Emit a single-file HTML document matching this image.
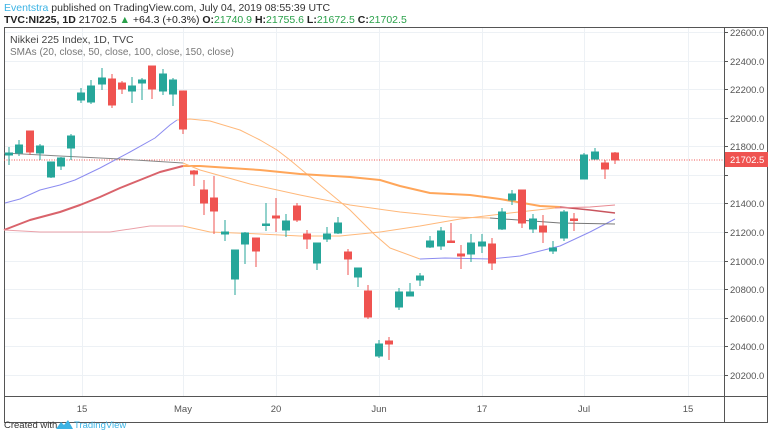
<!DOCTYPE html>
<html><head><meta charset="utf-8"><style>
body{margin:0;width:768px;height:434px;background:#fff;overflow:hidden;font-family:"Liberation Sans",sans-serif}
svg{position:absolute;left:0;top:0}
</style></head><body>
<svg width="768" height="434" viewBox="0 0 768 434" font-family="Liberation Sans, sans-serif">
<text x="4" y="11" font-size="10.5" fill="#333"><tspan fill="#3bb3e4">Eventstra</tspan> published on TradingView.com, July 04, 2019 08:55:39 UTC</text>
<text x="4" y="23" font-size="10.5" fill="#222"><tspan font-weight="bold">TVC:NI225, 1D</tspan> 21702.5 <tspan fill="#2aa14a">▲</tspan> +64.3 (+0.3%) <tspan font-weight="bold">O:</tspan><tspan fill="#2aa14a">21740.9</tspan> <tspan font-weight="bold">H:</tspan><tspan fill="#2aa14a">21755.6</tspan> <tspan font-weight="bold">L:</tspan><tspan fill="#2aa14a">21672.5</tspan> <tspan font-weight="bold">C:</tspan><tspan fill="#2aa14a">21702.5</tspan></text>
<g stroke="#edf1f5" stroke-width="1">
<line x1="4" x2="724" y1="32.5" y2="32.5"/><line x1="4" x2="724" y1="61.5" y2="61.5"/><line x1="4" x2="724" y1="89.5" y2="89.5"/><line x1="4" x2="724" y1="118.5" y2="118.5"/><line x1="4" x2="724" y1="146.5" y2="146.5"/><line x1="4" x2="724" y1="175.5" y2="175.5"/><line x1="4" x2="724" y1="203.5" y2="203.5"/><line x1="4" x2="724" y1="232.5" y2="232.5"/><line x1="4" x2="724" y1="261.5" y2="261.5"/><line x1="4" x2="724" y1="289.5" y2="289.5"/><line x1="4" x2="724" y1="318.5" y2="318.5"/><line x1="4" x2="724" y1="346.5" y2="346.5"/><line x1="4" x2="724" y1="375.5" y2="375.5"/>
<line x1="82.5" x2="82.5" y1="27" y2="396"/><line x1="183.5" x2="183.5" y1="27" y2="396"/><line x1="276.5" x2="276.5" y1="27" y2="396"/><line x1="379.5" x2="379.5" y1="27" y2="396"/><line x1="482.5" x2="482.5" y1="27" y2="396"/><line x1="584.5" x2="584.5" y1="27" y2="396"/><line x1="688.5" x2="688.5" y1="27" y2="396"/>
</g>
<rect x="4.5" y="27.5" width="763" height="395" fill="none" stroke="#555" stroke-width="1"/>
<line x1="724.5" x2="724.5" y1="27" y2="422" stroke="#555"/>
<line x1="4" x2="768" y1="396.5" y2="396.5" stroke="#555"/>
<text x="10" y="43" font-size="10.5" fill="#444">Nikkei 225 Index, 1D, TVC</text>
<text x="10" y="55" font-size="10" fill="#777">SMAs (20, close, 50, close, 100, close, 150, close)</text>
<line x1="4" x2="724" y1="160" y2="160" stroke="#ef5350" stroke-dasharray="1,1.5" stroke-width="1"/>
<!-- MAs -->
<g fill="none" stroke-linejoin="round">
<polyline stroke="#8c8cf0" stroke-width="1" points="5,203 20,199 40,190 60,185 75,180 100,168 130,152 155,138 170,125 177,120"/>
<polyline stroke="#ffb87a" stroke-width="1" points="177,120 190,119 210,121 240,130 260,140 277,150 290,160 320,185 350,210 375,235 390,248 420,259"/>
<polyline stroke="#8c8cf0" stroke-width="1" points="420,259 445,258 490,259 520,256 560,246 590,232 615,219"/>
<polyline stroke="#d9636b" stroke-width="2" points="4,230 30,220 60,212 80,205 100,197 120,188 140,180 160,172 183,166"/>
<polyline stroke="#ffa65a" stroke-width="2" points="183,166 200,166 230,168 260,170 300,174 350,177 380,180 400,186 430,193 470,195 500,199 540,206 560,207"/>
<polyline stroke="#c9555e" stroke-width="1.5" points="560,207 590,210 615,213"/>
<polyline stroke="#888" stroke-width="1" points="4,153 60,156 120,159 183,163"/>
<polyline stroke="#ffb87a" stroke-width="1" points="183,163 200,170 250,184 300,195 350,205 400,212 450,217 490,218"/>
<polyline stroke="#777" stroke-width="1" points="490,218 560,223 615,224"/>
<polyline stroke="#eba0a8" stroke-width="1" points="4,230 40,232 70,232 110,232 150,226 183,226"/>
<polyline stroke="#ffb87a" stroke-width="1" points="183,226 210,232 260,234 300,236 340,236 380,232 420,226 460,219 510,213 555,208"/>
<polyline stroke="#e88a92" stroke-width="1" points="555,208 590,207 615,205"/>
</g>
<!-- candles -->
<g stroke-width="1">
<g stroke="#26a69a" fill="#26a69a">
<line x1="9" x2="9" y1="147" y2="165"/><rect x="5.5" y="153" width="7" height="2"/>
<line x1="19" x2="19" y1="140" y2="156"/><rect x="15.5" y="145" width="7" height="8"/>
<line x1="40" x2="40" y1="144" y2="160"/><rect x="36.5" y="146" width="7" height="7"/>
<line x1="51" x2="51" y1="162" y2="178"/><rect x="47.5" y="162" width="7" height="15"/>
<line x1="61" x2="61" y1="157" y2="170"/><rect x="57.5" y="158" width="7" height="8"/>
<line x1="71" x2="71" y1="134" y2="160"/><rect x="67.5" y="136" width="7" height="12"/>
<line x1="81" x2="81" y1="88" y2="103"/><rect x="77.5" y="93" width="7" height="7"/>
<line x1="91" x2="91" y1="80" y2="104"/><rect x="87.5" y="86" width="7" height="16"/>
<line x1="102" x2="102" y1="68" y2="90"/><rect x="98.5" y="78" width="7" height="6"/>
<line x1="132" x2="132" y1="77" y2="103"/><rect x="128.5" y="86" width="7" height="5"/>
<line x1="142" x2="142" y1="78" y2="100"/><rect x="138.5" y="80" width="7" height="3"/>
<line x1="163" x2="163" y1="69" y2="95"/><rect x="159.5" y="74" width="7" height="17"/>
<line x1="173" x2="173" y1="78" y2="106"/><rect x="169.5" y="80" width="7" height="14"/>
<line x1="225" x2="225" y1="220" y2="241"/><rect x="221.5" y="232" width="7" height="2"/>
<line x1="235" x2="235" y1="250" y2="295"/><rect x="231.5" y="250" width="7" height="29"/>
<line x1="245" x2="245" y1="232" y2="264"/><rect x="241.5" y="233" width="7" height="11"/>
<line x1="266" x2="266" y1="203" y2="231"/><rect x="262.5" y="224" width="7" height="1.5"/>
<line x1="286" x2="286" y1="214" y2="237"/><rect x="282.5" y="221" width="7" height="9"/>
<line x1="317" x2="317" y1="243" y2="270"/><rect x="313.5" y="243" width="7" height="20"/>
<line x1="327" x2="327" y1="227" y2="242"/><rect x="323.5" y="234" width="7" height="5"/>
<line x1="338" x2="338" y1="217" y2="234"/><rect x="334.5" y="223" width="7" height="10"/>
<line x1="358" x2="358" y1="268" y2="287"/><rect x="354.5" y="268" width="7" height="9"/>
<line x1="379" x2="379" y1="340" y2="358"/><rect x="375.5" y="344" width="7" height="12"/>
<line x1="399" x2="399" y1="288" y2="310"/><rect x="395.5" y="292" width="7" height="15"/>
<line x1="410" x2="410" y1="283" y2="296"/><rect x="406.5" y="292" width="7" height="4"/>
<line x1="420" x2="420" y1="273" y2="286"/><rect x="416.5" y="276" width="7" height="4"/>
<line x1="430" x2="430" y1="236" y2="248"/><rect x="426.5" y="241" width="7" height="6"/>
<line x1="441" x2="441" y1="227" y2="250"/><rect x="437.5" y="231" width="7" height="15"/>
<line x1="471" x2="471" y1="234" y2="262"/><rect x="467.5" y="243" width="7" height="11"/>
<line x1="482" x2="482" y1="234" y2="253"/><rect x="478.5" y="242" width="7" height="4"/>
<line x1="502" x2="502" y1="208" y2="230"/><rect x="498.5" y="212" width="7" height="17"/>
<line x1="512" x2="512" y1="190" y2="205"/><rect x="508.5" y="194" width="7" height="6"/>
<line x1="533" x2="533" y1="214" y2="233"/><rect x="529.5" y="219" width="7" height="10"/>
<line x1="553" x2="553" y1="241" y2="254"/><rect x="549.5" y="248" width="7" height="3"/>
<line x1="564" x2="564" y1="210" y2="241"/><rect x="560.5" y="212" width="7" height="26"/>
<line x1="584" x2="584" y1="153" y2="179"/><rect x="580.5" y="155" width="7" height="24"/>
<line x1="595" x2="595" y1="148" y2="159"/><rect x="591.5" y="152" width="7" height="7"/>
</g>
<g stroke="#ef5350" fill="#ef5350">
<line x1="30" x2="30" y1="131" y2="155"/><rect x="26.5" y="131" width="7" height="21"/>
<line x1="112" x2="112" y1="74" y2="108"/><rect x="108.5" y="79" width="7" height="26"/>
<line x1="122" x2="122" y1="81" y2="94"/><rect x="118.5" y="83" width="7" height="6"/>
<line x1="152" x2="152" y1="66" y2="99"/><rect x="148.5" y="66" width="7" height="23"/>
<line x1="183" x2="183" y1="91" y2="134"/><rect x="179.5" y="91" width="7" height="38"/>
<line x1="194" x2="194" y1="170" y2="186"/><rect x="190.5" y="171" width="7" height="3"/>
<line x1="204" x2="204" y1="180" y2="215"/><rect x="200.5" y="190" width="7" height="13"/>
<line x1="214" x2="214" y1="176" y2="234"/><rect x="210.5" y="198" width="7" height="13"/>
<line x1="256" x2="256" y1="238" y2="267"/><rect x="252.5" y="238" width="7" height="13"/>
<line x1="276" x2="276" y1="198" y2="232"/><rect x="272.5" y="216" width="7" height="2"/>
<line x1="297" x2="297" y1="203" y2="222"/><rect x="293.5" y="206" width="7" height="14"/>
<line x1="307" x2="307" y1="230" y2="249"/><rect x="303.5" y="234" width="7" height="5"/>
<line x1="348" x2="348" y1="249" y2="275"/><rect x="344.5" y="252" width="7" height="7"/>
<line x1="368" x2="368" y1="285" y2="319"/><rect x="364.5" y="291" width="7" height="26"/>
<line x1="389" x2="389" y1="337" y2="360"/><rect x="385.5" y="341" width="7" height="3"/>
<line x1="451" x2="451" y1="223" y2="243"/><rect x="447.5" y="241" width="7" height="1.5"/>
<line x1="461" x2="461" y1="245" y2="269"/><rect x="457.5" y="254" width="7" height="2"/>
<line x1="492" x2="492" y1="238" y2="270"/><rect x="488.5" y="244" width="7" height="19"/>
<line x1="522" x2="522" y1="190" y2="228"/><rect x="518.5" y="190" width="7" height="33"/>
<line x1="543" x2="543" y1="215" y2="243"/><rect x="539.5" y="226" width="7" height="6"/>
<line x1="574" x2="574" y1="213" y2="231"/><rect x="570.5" y="219" width="7" height="1.5"/>
<line x1="605" x2="605" y1="160" y2="179"/><rect x="601.5" y="163" width="7" height="6"/>
<line x1="615" x2="615" y1="152" y2="164"/><rect x="611.5" y="153" width="7" height="7"/>
</g>
</g>
<!-- right axis -->
<g font-size="9.5" fill="#555">
<text x="730" y="36">22600.0</text><text x="730" y="65">22400.0</text><text x="730" y="93">22200.0</text><text x="730" y="122">22000.0</text><text x="730" y="150">21800.0</text><text x="730" y="207">21400.0</text><text x="730" y="236">21200.0</text><text x="730" y="265">21000.0</text><text x="730" y="293">20800.0</text><text x="730" y="322">20600.0</text><text x="730" y="350">20400.0</text><text x="730" y="379">20200.0</text>
</g>
<g stroke="#555"><line x1="724" x2="728" y1="32.5" y2="32.5"/><line x1="724" x2="728" y1="61.5" y2="61.5"/><line x1="724" x2="728" y1="89.5" y2="89.5"/><line x1="724" x2="728" y1="118.5" y2="118.5"/><line x1="724" x2="728" y1="146.5" y2="146.5"/><line x1="724" x2="728" y1="175.5" y2="175.5"/><line x1="724" x2="728" y1="203.5" y2="203.5"/><line x1="724" x2="728" y1="232.5" y2="232.5"/><line x1="724" x2="728" y1="261.5" y2="261.5"/><line x1="724" x2="728" y1="289.5" y2="289.5"/><line x1="724" x2="728" y1="318.5" y2="318.5"/><line x1="724" x2="728" y1="346.5" y2="346.5"/><line x1="724" x2="728" y1="375.5" y2="375.5"/></g>
<rect x="725" y="152" width="43" height="15" fill="#ef5350"/>
<text x="730" y="163" font-size="9.5" fill="#fff">21702.5</text>
<!-- bottom axis -->
<g font-size="9.5" fill="#555" text-anchor="middle">
<text x="82" y="412">15</text><text x="183" y="412">May</text><text x="276" y="412">20</text><text x="379" y="412">Jun</text><text x="482" y="412">17</text><text x="584" y="412">Jul</text><text x="688" y="412">15</text>
</g>
<text x="4" y="428" font-size="9.5" fill="#333">Created with</text>
<path d="M56,429 l5,-7 l3,3 l4,-5 l5,9 z" fill="#3bb3e4"/>
<text x="74" y="428" font-size="9.5" fill="#3bb3e4">TradingView</text>
</svg>
</body></html>
